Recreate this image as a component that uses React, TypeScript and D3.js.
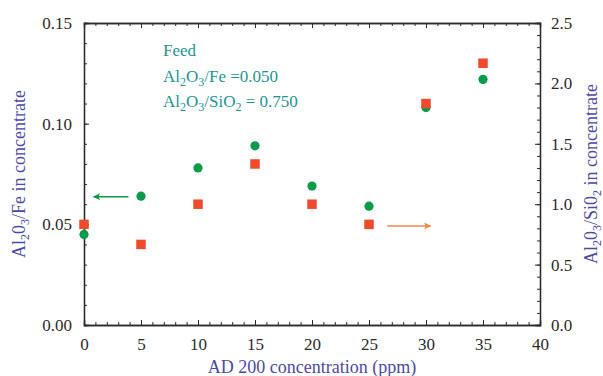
import React, { useEffect, useRef } from 'react'
import * as d3 from 'd3'

// AD 200 dosage (ppm)
const concentration = [0, 5, 10, 15, 20, 25, 30, 35]
// left axis: Al2O3/Fe in concentrate (green circles)
const feRatio = [0.045, 0.064, 0.078, 0.089, 0.069, 0.059, 0.108, 0.122]
// right axis: Al2O3/SiO2 in concentrate (red squares)
const siRatio = [0.833, 0.667, 1.0, 1.333, 1.0, 0.833, 1.833, 2.167]

const xTicks = [0, 5, 10, 15, 20, 25, 30, 35, 40]
const leftTicks = [0, 0.05, 0.1, 0.15]
const rightTicks = [0, 0.5, 1.0, 1.5, 2.0, 2.5]

const FONT = "'Liberation Serif', 'DejaVu Serif', Tinos, 'Noto Serif', 'Times New Roman', Times, serif"
const GREEN = '#0a9b4b'
const RED = '#f04a2c'
const ORANGE = '#f6884c'
const TEAL = '#1b9790'
const TITLE = '#4b4aa8'
const INK = '#2b2b2b'

const App = () => {
  const ref = useRef<HTMLDivElement>(null)

  useEffect(() => {
    const width = 603
    const height = 376
    const marginTop = 23
    const marginRight = 63
    const marginBottom = 51
    const marginLeft = 84

    const x = d3.scaleLinear().domain([0, 40]).range([marginLeft, width - marginRight])
    const yL = d3.scaleLinear().domain([0, 0.15]).range([height - marginBottom, marginTop])
    const yR = d3.scaleLinear().domain([0, 2.5]).range([height - marginBottom, marginTop])

    const svg = d3
      .create('svg')
      .attr('width', width)
      .attr('height', height)
      .attr('viewBox', [0, 0, width, height])
      .style('position', 'absolute')
      .style('left', '0px')
      .style('top', '0px')
      .style('background', '#fff')
      .style('font-family', FONT)

    const styleAxis = (g) => {
      g.attr('font-family', null)
      g.selectAll('.domain').attr('stroke', INK).attr('stroke-width', 1.3)
      g.selectAll('.tick line').attr('stroke', INK).attr('stroke-width', 1)
      g.selectAll('.tick text')
        .attr('fill', INK)
        .style('font-family', FONT)
        .style('font-size', '17px')
    }

    const bottom = height - marginBottom
    const right = width - marginRight

    // minor ticks first
    const minorX = d3.range(0, 41, 1)
    svg.append('g').attr('transform', `translate(0,${bottom})`)
      .call(d3.axisBottom(x).tickValues(minorX).tickSize(-3).tickFormat(() => ''))
      .call(styleAxis)
    svg.append('g').attr('transform', `translate(0,${marginTop})`)
      .call(d3.axisTop(x).tickValues(minorX).tickSize(-3).tickFormat(() => ''))
      .call(styleAxis)
    svg.append('g').attr('transform', `translate(${marginLeft},0)`)
      .call(d3.axisLeft(yL).tickValues(d3.range(0, 0.1501, 0.01)).tickSize(-3).tickFormat(() => ''))
      .call(styleAxis)
    svg.append('g').attr('transform', `translate(${right},0)`)
      .call(d3.axisRight(yR).tickValues(d3.range(0, 2.501, 0.1)).tickSize(-3).tickFormat(() => ''))
      .call(styleAxis)

    // major ticks
    svg.append('g').attr('transform', `translate(0,${bottom})`)
      .call(d3.axisBottom(x).tickValues(xTicks).tickSize(-5).tickPadding(13).tickFormat(d3.format('d')))
      .call(styleAxis)
    svg.append('g').attr('transform', `translate(0,${marginTop})`)
      .call(d3.axisTop(x).tickValues(xTicks).tickSize(-5).tickFormat(() => ''))
      .call(styleAxis)
    svg.append('g').attr('transform', `translate(${marginLeft},0)`)
      .call(d3.axisLeft(yL).tickValues(leftTicks).tickSize(-5).tickPadding(12).tickFormat(d3.format('.2f')))
      .call(styleAxis)
    svg.append('g').attr('transform', `translate(${right},0)`)
      .call(d3.axisRight(yR).tickValues(rightTicks).tickSize(-5).tickPadding(11).tickFormat(d3.format('.1f')))
      .call(styleAxis)

    // points
    svg.append('g')
      .selectAll('circle')
      .data(concentration)
      .join('circle')
      .attr('cx', (d) => x(d))
      .attr('cy', (d, i) => yL(feRatio[i]))
      .attr('r', 4.6)
      .attr('fill', GREEN)

    const s = 9.5
    svg.append('g')
      .selectAll('rect')
      .data(concentration)
      .join('rect')
      .attr('x', (d) => x(d) - s / 2)
      .attr('y', (d, i) => yR(siRatio[i]) - s / 2)
      .attr('width', s)
      .attr('height', s)
      .attr('fill', RED)

    // arrows pointing to each series' axis
    const defs = svg.append('defs')
    const marker = (id, color) =>
      defs.append('marker')
        .attr('id', id)
        .attr('viewBox', '0 0 10 10')
        .attr('refX', 9)
        .attr('refY', 5)
        .attr('markerWidth', 9)
        .attr('markerHeight', 7)
        .attr('markerUnits', 'userSpaceOnUse')
        .attr('orient', 'auto')
        .append('path')
        .attr('d', 'M0,0L10,5L0,10L2,5Z')
        .attr('fill', color)
    marker('ag', GREEN)
    marker('ao', ORANGE)

    svg.append('line')
      .attr('x1', x(3.9)).attr('x2', x(0.85))
      .attr('y1', yL(0.0637)).attr('y2', yL(0.0637))
      .attr('stroke', GREEN).attr('stroke-width', 1.5)
      .attr('marker-end', 'url(#ag)')
    svg.append('line')
      .attr('x1', x(26.6)).attr('x2', x(30.4))
      .attr('y1', yR(0.82)).attr('y2', yR(0.82))
      .attr('stroke', ORANGE).attr('stroke-width', 1.5)
      .attr('marker-end', 'url(#ao)')

    // text with subscripts: parts are [text, isSubscript]
    const sub = (t, parts, size, subSize) => {
      let prev = false
      parts.forEach(([txt, isSub]) => {
        t.append('tspan')
          .attr('dy', (isSub ? 4 : 0) - (prev ? 4 : 0))
          .style('font-size', `${isSub ? subSize : size}px`)
          .text(txt)
        prev = isSub
      })
    }

    // feed note
    const note = svg.append('g').attr('fill', TEAL)
    note.append('text').attr('x', 163).attr('y', 56).style('font-size', '17px').text('Feed')
    sub(note.append('text').attr('x', 163).attr('y', 82),
      [['Al', false], ['2', true], ['O', false], ['3', true], ['/Fe =0.050', false]], 17, 12)
    sub(note.append('text').attr('x', 163).attr('y', 107),
      [['Al', false], ['2', true], ['O', false], ['3', true], ['/SiO', false], ['2', true], [' = 0.750', false]], 17, 12)

    // axis titles
    const titles = svg.append('g').attr('fill', TITLE)
    titles.append('text')
      .attr('x', (marginLeft + right) / 2)
      .attr('y', 373)
      .attr('text-anchor', 'middle')
      .style('font-size', '18px')
      .text('AD 200 concentration (ppm)')

    const midY = (marginTop + bottom) / 2
    sub(titles.append('text')
      .attr('text-anchor', 'middle')
      .attr('transform', `translate(25,${midY}) rotate(-90)`),
      [['Al', false], ['2', true], ['0', false], ['3', true], ['/Fe in concentrate', false]], 18, 12)
    sub(titles.append('text')
      .attr('text-anchor', 'middle')
      .attr('transform', `translate(597,${midY}) rotate(-90)`),
      [['Al', false], ['2', true], ['0', false], ['3', true], ['/Si0', false], ['2', true], [' in concentrate', false]], 18, 12)

    d3.select(ref.current).selectAll('*').remove()
    ref.current.appendChild(svg.node())
  }, [])

  return <div ref={ref}></div>
}

export default App
